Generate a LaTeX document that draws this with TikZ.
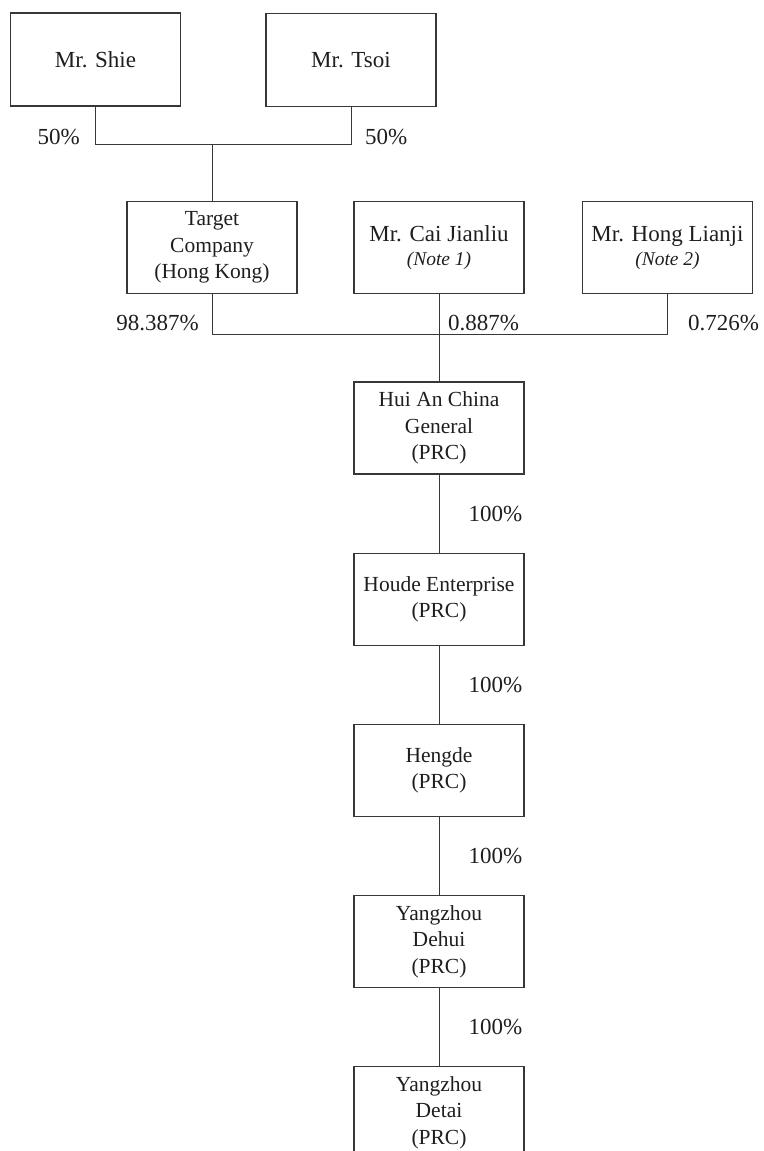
\documentclass[tikz,border=0pt]{standalone}
\usepackage{fontspec}
\setmainfont{Liberation Serif}
\usetikzlibrary{positioning, calc}
\definecolor{boxgray}{RGB}{55,55,55}
\definecolor{textdark}{RGB}{30,30,30}

\begin{document}
\begin{tikzpicture}[
        x=1pt, y=-1pt,
        node distance=78pt,
        every node/.style={text=textdark},
        entity/.style={draw=boxgray, line width=1.2pt, minimum width=170pt, minimum height=92pt, inner sep=0pt, align=center, font=\fontsize{21.5}{26.5}\selectfont},
        person/.style={entity, minimum height=93pt, font=\fontsize{23}{27}\selectfont},
        pct/.style={inner sep=0pt, font=\fontsize{23}{27}\selectfont},
        link/.style={draw=boxgray, line width=1pt}
    ]
        \useasboundingbox (0,0) rectangle (763,1151);

        % shareholders of the target
        \node[person] (shie) at (95.5,59.5) {Mr. Shie};
        \node[person] (tsoi) at (351,60) {Mr. Tsoi};

        % second row
        \node[entity] (target) at (212,247.5) {Target\\Company\\(Hong Kong)};
        \node[person, minimum height=92pt] (cai) at (439,247.5) {Mr. Cai Jianliu\\[-3pt]{\fontsize{19.5}{22}\selectfont\itshape (Note 1)}};
        \node[person, minimum height=92pt] (hong) at (667.5,247.5) {Mr. Hong Lianji\\[-3pt]{\fontsize{19.5}{22}\selectfont\itshape (Note 2)}};

        % PRC chain
        \node[entity] (huian) at (439,428) {Hui An China\\General\\(PRC)};
        \node[entity, below=of huian] (houde) {Houde Enterprise\\(PRC)};
        \node[entity, below=of houde] (hengde) {Hengde\\(PRC)};
        \node[entity, below=of hengde] (dehui) {Yangzhou\\Dehui\\(PRC)};
        \node[entity, below=of dehui] (detai) {Yangzhou\\Detai\\(PRC)};

        % joins
        \coordinate (topjoin) at ($(target.north)+(0,-56)$);
        \coordinate (midjoin) at ($(cai.south)+(0,40)$);

        \draw[link] (shie.south) |- (topjoin) -| (tsoi.south);
        \draw[link] (topjoin) -- (target.north);
        \draw[link] (target.south) |- (midjoin) -| (hong.south);
        \draw[link] (cai.south) -- (huian.north);

        \node[pct, anchor=east] (pshie) at (80,137) {50\%};
        \node[pct, anchor=west] (ptsoi) at (365,137) {50\%};
        \node[pct, anchor=east] (ptarget) at (199,323) {98.387\%};
        \node[pct, anchor=west] (pcai) at (448,323) {0.887\%};
        \node[pct, anchor=west] (phong) at (688,323) {0.726\%};

        \draw[link] (huian) -- (houde) node[pct, midway, anchor=west, xshift=29pt] {100\%};
        \draw[link] (houde) -- (hengde) node[pct, midway, anchor=west, xshift=29pt] {100\%};
        \draw[link] (hengde) -- (dehui) node[pct, midway, anchor=west, xshift=29pt] {100\%};
        \draw[link] (dehui) -- (detai) node[pct, midway, anchor=west, xshift=29pt] {100\%};
    \end{tikzpicture}
\end{document}
